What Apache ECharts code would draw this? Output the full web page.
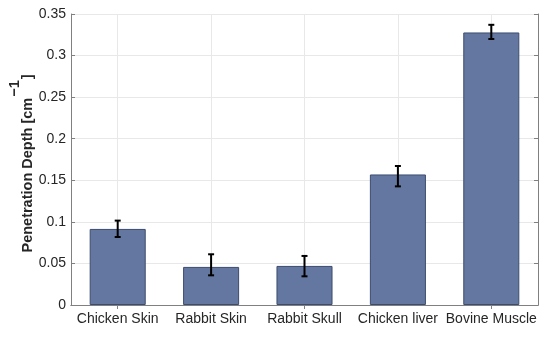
<!DOCTYPE html>
<html><head><meta charset="utf-8">
<script src="https://cdn.jsdelivr.net/npm/echarts@6/dist/echarts.min.js"></script>
<style>html,body{margin:0;padding:0;background:#fff}#c{width:550px;height:337px}</style>
</head><body><div id="c"></div>
<script>
const categories = ['Chicken Skin', 'Rabbit Skin', 'Rabbit Skull', 'Chicken liver', 'Bovine Muscle'];
const values = [0.0915, 0.0458, 0.0470, 0.1570, 0.3278];
const errLow = [0.0818, 0.0357, 0.0345, 0.1427, 0.3199];
const errHigh = [0.1015, 0.0610, 0.0590, 0.1672, 0.3370];
const yTicks = [0, 0.05, 0.1, 0.15, 0.2, 0.25, 0.3, 0.35];

const chart = echarts.init(document.getElementById('c'), null, {renderer: 'canvas'});
const font = 'Liberation Sans, Arial, sans-serif';
const axisColor = '#808080';
const gridColor = '#e8e8e8';
const nameStyle = {fontSize: 14.5, fontWeight: 'bold', color: '#262626', fontFamily: font};
chart.setOption({
  animation: false,
  grid: {left: 71, right: 12, top: 14, bottom: 32, containLabel: false, outerBoundsMode: 'none'},
  xAxis: [{
    type: 'category', data: categories, position: 'bottom',
    axisLine: {lineStyle: {color: axisColor, width: 1}},
    axisTick: {show: true, inside: true, alignWithLabel: true, length: 4, lineStyle: {color: axisColor}},
    axisLabel: {color: '#262626', fontSize: 14, fontFamily: font, margin: 7, interval: 0},
    splitLine: {show: true, alignWithLabel: true, lineStyle: {color: gridColor, width: 1}}
  }, {
    type: 'category', data: categories, position: 'top',
    axisLine: {lineStyle: {color: axisColor, width: 1}},
    axisTick: {show: true, inside: true, alignWithLabel: true, length: 4, lineStyle: {color: axisColor}},
    axisLabel: {show: false}, splitLine: {show: false}
  }],
  yAxis: [{
    type: 'value', min: 0, max: 0.35, interval: 0.05, position: 'left',
    name: '{a|Penetration Depth [cm}{b|−1}{c|]}',
    nameLocation: 'middle', nameGap: 36, nameMoveOverlap: false,
    nameTextStyle: {rich: {
      a: Object.assign({lineHeight: 28, verticalAlign: 'bottom'}, nameStyle),
      b: Object.assign({lineHeight: 16, verticalAlign: 'top', padding: [0, 1, 0, 1]}, nameStyle),
      c: Object.assign({lineHeight: 28, verticalAlign: 'bottom', padding: [0, 8, 0, 0]}, nameStyle)
    }},
    axisLine: {show: true, lineStyle: {color: axisColor, width: 1}},
    axisTick: {show: true, inside: true, length: 4, lineStyle: {color: axisColor}},
    axisLabel: {color: '#262626', fontSize: 14, fontFamily: font, margin: 5,
      formatter: v => { const t = yTicks.find(x => Math.abs(x - v) < 1e-9); return String(t !== undefined ? t : v); }},
    splitLine: {show: true, lineStyle: {color: gridColor, width: 1}}
  }, {
    type: 'value', min: 0, max: 0.35, interval: 0.05, position: 'right',
    axisLine: {show: true, lineStyle: {color: axisColor, width: 1}},
    axisTick: {show: true, inside: true, length: 4, lineStyle: {color: axisColor}},
    axisLabel: {show: false}, splitLine: {show: false}
  }],
  series: [{
    type: 'bar', data: values, barWidth: '60%', z: 2,
    itemStyle: {color: '#6477a0', borderColor: '#3d4c6e', borderWidth: 1}
  }, {
    type: 'custom', z: 5,
    data: categories.map((c, i) => [i, errLow[i], errHigh[i]]),
    renderItem: function (params, api) {
      const x = api.value(0);
      const lo = api.coord([x, api.value(1)]);
      const hi = api.coord([x, api.value(2)]);
      const hw = 3;
      const st = {stroke: '#000', lineWidth: 2};
      return {type: 'group', children: [
        {type: 'line', shape: {x1: lo[0], y1: lo[1], x2: hi[0], y2: hi[1]}, style: st},
        {type: 'line', shape: {x1: lo[0] - hw, y1: lo[1], x2: lo[0] + hw, y2: lo[1]}, style: st},
        {type: 'line', shape: {x1: hi[0] - hw, y1: hi[1], x2: hi[0] + hw, y2: hi[1]}, style: st}
      ]};
    }
  }]
});
</script></body></html>
